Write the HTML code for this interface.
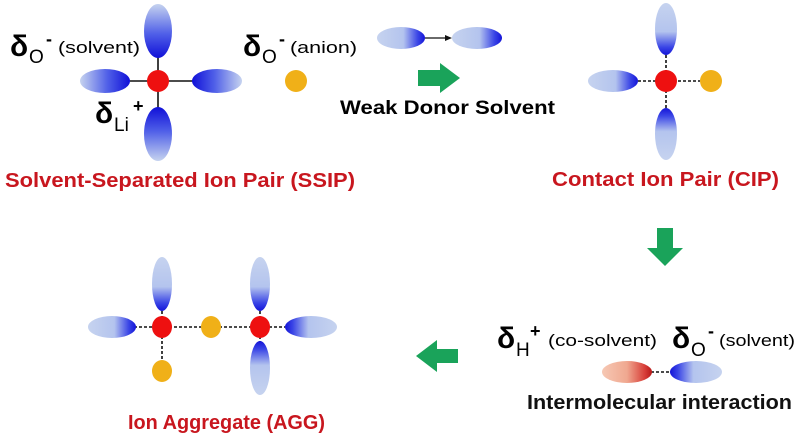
<!DOCTYPE html>
<html><head><meta charset="utf-8"><style>
html,body{margin:0;padding:0;background:#fff;}
svg{display:block;}
text{font-family:"Liberation Sans",sans-serif;}
</style></head><body>
<svg width="800" height="441" viewBox="0 0 800 441" xmlns="http://www.w3.org/2000/svg">
<defs>
<linearGradient id="gDB" x1="0" y1="0" x2="0" y2="1"><stop offset="0" stop-color="#c6d3ef"/><stop offset="0.55" stop-color="#b4c4ee"/><stop offset="0.85" stop-color="#3a45e6"/><stop offset="1" stop-color="#1414d8"/></linearGradient>
<linearGradient id="gDT" x1="0" y1="1" x2="0" y2="0"><stop offset="0" stop-color="#c6d3ef"/><stop offset="0.55" stop-color="#b4c4ee"/><stop offset="0.85" stop-color="#3a45e6"/><stop offset="1" stop-color="#1414d8"/></linearGradient>
<linearGradient id="gDR" x1="0" y1="0" x2="1" y2="0"><stop offset="0" stop-color="#c6d3ef"/><stop offset="0.55" stop-color="#b4c4ee"/><stop offset="0.85" stop-color="#3a45e6"/><stop offset="1" stop-color="#1414d8"/></linearGradient>
<linearGradient id="gDL" x1="1" y1="0" x2="0" y2="0"><stop offset="0" stop-color="#c6d3ef"/><stop offset="0.55" stop-color="#b4c4ee"/><stop offset="0.85" stop-color="#3a45e6"/><stop offset="1" stop-color="#1414d8"/></linearGradient>
<linearGradient id="sB" x1="0" y1="0" x2="0" y2="1"><stop offset="0" stop-color="#c6d3ef"/><stop offset="0.55" stop-color="#5060e8"/><stop offset="1" stop-color="#1010d8"/></linearGradient>
<linearGradient id="sT" x1="0" y1="1" x2="0" y2="0"><stop offset="0" stop-color="#c6d3ef"/><stop offset="0.55" stop-color="#5060e8"/><stop offset="1" stop-color="#1010d8"/></linearGradient>
<linearGradient id="sR" x1="0" y1="0" x2="1" y2="0"><stop offset="0" stop-color="#c6d3ef"/><stop offset="0.55" stop-color="#5060e8"/><stop offset="1" stop-color="#1010d8"/></linearGradient>
<linearGradient id="sL" x1="1" y1="0" x2="0" y2="0"><stop offset="0" stop-color="#c6d3ef"/><stop offset="0.55" stop-color="#5060e8"/><stop offset="1" stop-color="#1010d8"/></linearGradient>
<linearGradient id="gRed" x1="0" y1="0" x2="1" y2="0"><stop offset="0" stop-color="#f6c8b4"/><stop offset="0.5" stop-color="#f0a890"/><stop offset="0.85" stop-color="#d8403a"/><stop offset="1" stop-color="#b81818"/></linearGradient>
</defs>

<!-- SSIP -->
<g stroke="#111" stroke-width="1.6">
<line x1="158" y1="56" x2="158" y2="108"/><line x1="130" y1="81" x2="193" y2="81"/>
</g>
<ellipse cx="158" cy="31" rx="14" ry="27" fill="url(#sB)"/>
<ellipse cx="158" cy="134" rx="14" ry="27" fill="url(#sT)"/>
<ellipse cx="105" cy="81" rx="25" ry="12" fill="url(#sR)"/>
<ellipse cx="217" cy="81" rx="25" ry="12" fill="url(#sL)"/>
<circle cx="158" cy="81" r="11" fill="#ee1010"/>
<circle cx="296" cy="81" r="11" fill="#f0b018"/>
<text x="10" y="56" font-size="30" font-weight="bold">δ</text>
<text x="29" y="63" font-size="19">O</text>
<text x="46" y="45" font-size="18" font-weight="bold">-</text>
<text x="58" y="53" font-size="17" textLength="82" lengthAdjust="spacingAndGlyphs">(solvent)</text>
<text x="243" y="56" font-size="30" font-weight="bold">δ</text>
<text x="262" y="63" font-size="19">O</text>
<text x="279" y="45" font-size="18" font-weight="bold">-</text>
<text x="290" y="53" font-size="17" textLength="67" lengthAdjust="spacingAndGlyphs">(anion)</text>
<text x="95" y="123" font-size="30" font-weight="bold">δ</text>
<text x="114" y="131" font-size="19">Li</text>
<text x="133" y="112" font-size="18" font-weight="bold">+</text>
<text x="5" y="187" font-size="20" font-weight="bold" fill="#c8161e" textLength="350" lengthAdjust="spacingAndGlyphs">Solvent-Separated Ion Pair (SSIP)</text>

<!-- weak donor -->
<ellipse cx="401" cy="38" rx="24" ry="11" fill="url(#gDR)"/>
<ellipse cx="477" cy="38" rx="25" ry="11" fill="url(#gDR)"/>
<line x1="425" y1="38" x2="446" y2="38" stroke="#111" stroke-width="1.3"/>
<polygon points="452,38 445,35 445,41" fill="#111"/>
<polygon points="418,70 440,70 440,63 460,78 440,93 440,86 418,86" fill="#1aa35a"/>
<text x="340" y="114" font-size="19" font-weight="bold" textLength="215" lengthAdjust="spacingAndGlyphs">Weak Donor Solvent</text>

<!-- CIP -->
<g stroke="#111" stroke-width="1.6" stroke-dasharray="3,2">
<line x1="666" y1="55" x2="666" y2="108"/><line x1="638" y1="81" x2="700" y2="81"/>
</g>
<ellipse cx="666" cy="29" rx="11" ry="26" fill="url(#gDB)"/>
<ellipse cx="666" cy="134" rx="11" ry="26" fill="url(#gDT)"/>
<ellipse cx="613" cy="81" rx="25" ry="11" fill="url(#gDR)"/>
<circle cx="666" cy="81" r="11" fill="#ee1010"/>
<circle cx="711" cy="81" r="11" fill="#f0b018"/>
<text x="552" y="186" font-size="20" font-weight="bold" fill="#c8161e" textLength="227" lengthAdjust="spacingAndGlyphs">Contact Ion Pair (CIP)</text>

<!-- down arrow -->
<polygon points="657,228 673,228 673,248 683,248 665,266 647,248 657,248" fill="#1aa35a"/>

<!-- right bottom -->
<text x="497" y="348" font-size="30" font-weight="bold">δ</text>
<text x="516" y="356" font-size="19">H</text>
<text x="530" y="337" font-size="18" font-weight="bold">+</text>
<text x="548" y="346" font-size="17" textLength="109" lengthAdjust="spacingAndGlyphs">(co-solvent)</text>
<text x="672" y="348" font-size="30" font-weight="bold">δ</text>
<text x="691" y="356" font-size="19">O</text>
<text x="708" y="337" font-size="18" font-weight="bold">-</text>
<text x="719" y="346" font-size="17" textLength="76" lengthAdjust="spacingAndGlyphs">(solvent)</text>
<line x1="651" y1="372" x2="670" y2="372" stroke="#111" stroke-width="1.6" stroke-dasharray="3,2"/>
<ellipse cx="627" cy="372" rx="25" ry="11" fill="url(#gRed)"/>
<ellipse cx="696" cy="372" rx="26" ry="11" fill="url(#gDL)"/>
<text x="527" y="409" font-size="20" font-weight="bold" fill="#111" textLength="265" lengthAdjust="spacingAndGlyphs">Intermolecular interaction</text>

<!-- left arrow -->
<polygon points="458,349 437,349 437,340 416,356 437,372 437,363 458,363" fill="#1aa35a"/>

<!-- AGG -->
<g stroke="#111" stroke-width="1.6" stroke-dasharray="3,2">
<line x1="162" y1="311" x2="162" y2="362"/><line x1="134" y1="327" x2="285" y2="327"/>
<line x1="260" y1="311" x2="260" y2="342"/>
</g>
<ellipse cx="162" cy="284" rx="10" ry="27" fill="url(#gDB)"/>
<ellipse cx="260" cy="284" rx="10" ry="27" fill="url(#gDB)"/>
<ellipse cx="260" cy="368" rx="10" ry="27" fill="url(#gDT)"/>
<ellipse cx="112" cy="327" rx="24" ry="11" fill="url(#gDR)"/>
<ellipse cx="311" cy="327" rx="26" ry="11" fill="url(#gDL)"/>
<ellipse cx="162" cy="327" rx="10" ry="11" fill="#ee1010"/>
<ellipse cx="260" cy="327" rx="10" ry="11" fill="#ee1010"/>
<ellipse cx="211" cy="327" rx="10" ry="11" fill="#f0b018"/>
<ellipse cx="162" cy="371" rx="10" ry="11" fill="#f0b018"/>
<text x="128" y="429" font-size="20" font-weight="bold" fill="#c8161e" textLength="197" lengthAdjust="spacingAndGlyphs">Ion Aggregate (AGG)</text>
</svg>
</body></html>
